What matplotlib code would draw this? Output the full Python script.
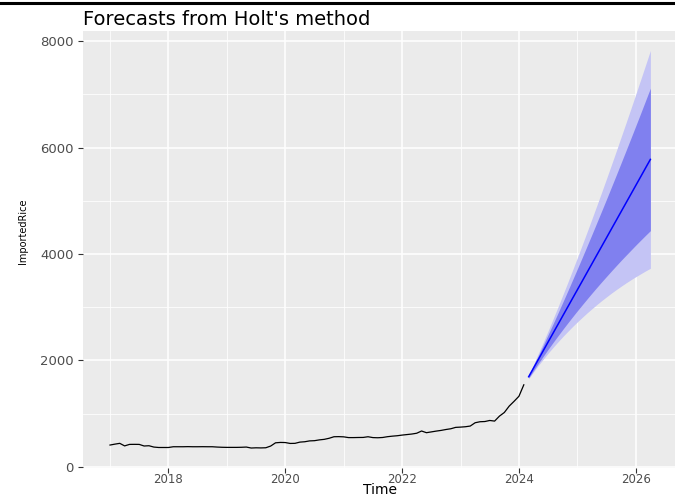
import numpy as np
import matplotlib
matplotlib.use('Agg')
import matplotlib.pyplot as plt
from matplotlib.lines import Line2D
from matplotlib.ticker import MultipleLocator

# monthly series, Jan 2017 .. Feb 2024
obs_start = 2017.0
imported_rice = [408, 425, 440, 392, 420, 421, 420, 390, 395, 370, 362, 362,
                 362, 376, 376, 376, 378, 376, 376, 377, 376, 376, 370, 366,
                 364, 364, 364, 366, 370, 352, 356, 354, 357, 389, 450, 457,
                 455, 438, 440, 463, 470, 486, 490, 505, 515, 535, 564, 566,
                 562, 548, 548, 550, 551, 564, 548, 545, 550, 565, 575, 583,
                 595, 605, 615, 630, 672, 640, 655, 670, 683, 700, 714, 740,
                 745, 752, 765, 827, 846, 850, 870, 858, 952, 1020, 1140, 1230,
                 1325, 1540]

# Holt forecasts, Mar 2024 .. Apr 2026
fc_start = 2024 + 2/12.
fc_mean = [1692, 1855, 2019, 2182, 2346, 2509, 2672, 2836, 2999, 3163, 3326, 3489, 3653,
           3816, 3980, 4143, 4306, 4470, 4633, 4797, 4960, 5123, 5287, 5450, 5614, 5777]
lo80 = [1668, 1808, 1945, 2078, 2208, 2335, 2459, 2581, 2700, 2817, 2932, 3044, 3155,
        3264, 3371, 3476, 3579, 3681, 3781, 3880, 3976, 4071, 4166, 4258, 4349, 4438]
hi80 = [1716, 1902, 2093, 2286, 2484, 2683, 2885, 3091, 3298, 3509, 3720, 3934, 4151,
        4368, 4589, 4810, 5033, 5259, 5485, 5714, 5944, 6175, 6408, 6642, 6879, 7116]
lo95 = [1656, 1783, 1906, 2023, 2136, 2243, 2346, 2446, 2541, 2634, 2723, 2808, 2892,
        2971, 3049, 3123, 3194, 3264, 3330, 3394, 3456, 3515, 3572, 3626, 3680, 3730]
hi95 = [1728, 1927, 2132, 2341, 2556, 2775, 2998, 3226, 3457, 3692, 3929, 4170, 4414,
        4661, 4911, 5163, 5418, 5676, 5936, 6200, 6464, 6731, 7002, 7274, 7548, 7824]

t_obs = obs_start + np.arange(len(imported_rice)) / 12.
t_fc = fc_start + np.arange(len(fc_mean)) / 12.

W, H = 675, 497
fig = plt.figure(figsize=(W/100., H/100.), dpi=100)

# panel in pixel coords (right edge runs a bit past the image)
px_left, px_right, px_top, px_bot = 83, 677.4, 30.6, 467.9
ax = fig.add_axes([px_left/W, 1 - px_bot/H, (px_right-px_left)/W, (px_bot-px_top)/H])
ax.set_facecolor('#EBEBEB')
for s in ax.spines.values():
    s.set_visible(False)

# ggplot-like grid
ax.xaxis.set_major_locator(MultipleLocator(2))
ax.xaxis.set_minor_locator(MultipleLocator(1))
ax.yaxis.set_major_locator(MultipleLocator(2000))
ax.yaxis.set_minor_locator(MultipleLocator(1000))
ax.grid(which='major', color='white', lw=1.1)
ax.grid(which='minor', color='white', lw=0.55)
ax.set_axisbelow(True)

ax.fill_between(t_fc, lo95, hi95, color='#C4C4F5', lw=0)
ax.fill_between(t_fc, lo80, hi80, color='#8080EF', lw=0)
ax.plot(t_obs, imported_rice, color='black', lw=0.9)
ax.plot(t_fc, fc_mean, color='#0000FF', lw=1.1)

# 5% expansion like ggplot
xr = t_fc[-1] - t_obs[0]
ax.set_xlim(t_obs[0] - 0.05*xr, t_fc[-1] + 0.05*xr)
ymin = min(imported_rice)
ymax = max(hi95)
yr = ymax - ymin
ax.set_ylim(ymin - 0.05*yr, ymax + 0.05*yr)

ax.set_xticks([2018, 2020, 2022, 2024, 2026])
ax.set_xticklabels(['2018', '2020', '2022', '2024', '2026'])
ax.set_yticks([0, 2000, 4000, 6000, 8000])
ax.set_yticklabels(['0', '2000', '4000', '6000', '8000'])
ax.tick_params(which='major', length=3.5, width=0.8, color='#333333',
               labelcolor='#4D4D4D', labelsize=9.5)
ax.tick_params(axis='x', pad=0.3, labelsize=8.5)
ax.tick_params(axis='y', pad=3)
ax.tick_params(which='minor', length=0)

fig.text(px_left/W, 1 - 25/H, "Forecasts from Holt's method", fontsize=14,
         ha='left', va='baseline', color='black')
fig.text((px_left + px_right)/2/W, 1 - 494.3/H, 'Time', fontsize=10,
         ha='center', va='baseline', color='black')
fig.text(23/W, 1 - 231/H, 'ImportedRice', rotation=90, fontsize=7,
         family=['Liberation Sans Narrow', 'DejaVu Sans Condensed', 'DejaVu Sans'],
         ha='center', va='center', color='black')

# black rule along the top edge
fig.add_artist(Line2D([0, 1], [1 - 2.5/H, 1 - 2.5/H], transform=fig.transFigure,
                      color='black', lw=2.2))

fig.savefig('out.png', dpi=100)
